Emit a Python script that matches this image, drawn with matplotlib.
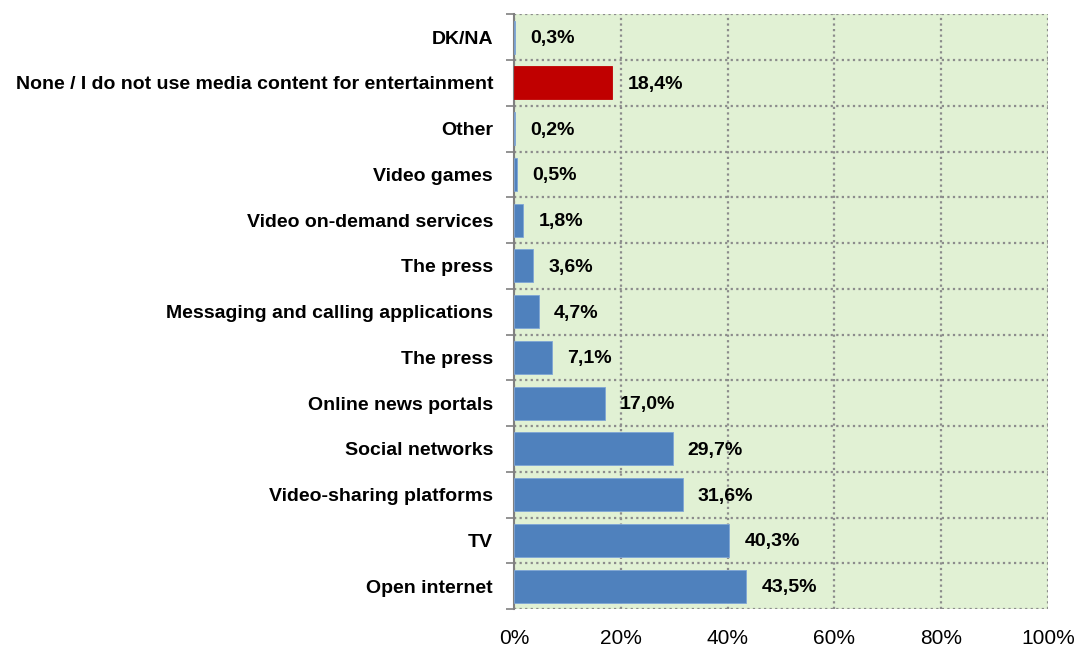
import numpy as np
import matplotlib
matplotlib.use("Agg")
from matplotlib import pyplot as plt
from matplotlib.ticker import FixedLocator

# data, top to bottom as in the chart
categories = [
    "DK/NA",
    "None / I do not use media content for entertainment",
    "Other",
    "Video games",
    "Video on-demand services",
    "The press",
    "Messaging and calling applications",
    "The press",
    "Online news portals",
    "Social networks",
    "Video-sharing platforms",
    "TV",
    "Open internet",
]
values = [0.3, 18.4, 0.2, 0.5, 1.8, 3.6, 4.7, 7.1, 17.0, 29.7, 31.6, 40.3, 43.5]
highlight = "None / I do not use media content for entertainment"
x_ticks = [0, 20, 40, 60, 80, 100]

plt.rcParams['font.family'] = ['Liberation Sans Narrow', 'Liberation Sans', 'DejaVu Sans']

fig = plt.figure(figsize=(10.75, 6.48), dpi=100)
ax = fig.add_axes([0.478, 0.06, 0.497, 0.918])
ax.set_facecolor('#E1F1D4')

n = len(categories)
y = np.arange(n)[::-1]
colors = ['#C00000' if c == highlight else '#4F81BD' for c in categories]
bars = ax.barh(y, values, height=0.72, color=colors, edgecolor='#7FA6D6', linewidth=0.6, zorder=3)
# red bar without blue edge
for b, c in zip(bars, categories):
    if c == highlight:
        b.set_edgecolor('#C00000')

for yi, v in zip(y, values):
    ax.annotate(f"{v:.1f}%".replace('.', ','), (v, yi), xytext=(11, -1),
                textcoords='offset points', va='center', ha='left',
                fontsize=14, fontweight='bold', zorder=4)

ax.set_xlim(0, 100)
ax.set_ylim(-0.5, n - 0.5)
ax.set_xticks(x_ticks)
ax.set_xticklabels([f"{t}%" for t in x_ticks], fontsize=15)
ax.tick_params(axis='x', length=0, pad=14)

ax.set_yticks(y)
ax.set_yticklabels(categories, fontsize=14, fontweight='bold')
ax.tick_params(axis='y', which='major', length=0, pad=15)
bounds = np.arange(n + 1) - 0.5
ax.yaxis.set_minor_locator(FixedLocator(bounds))
ax.tick_params(axis='y', which='minor', length=6, color='#808080', width=1.2)

ax.grid(True, axis='x', which='major', linestyle=(0, (1, 1.5)), color='#8C8C8C', linewidth=1.6, zorder=1)
ax.grid(True, axis='y', which='minor', linestyle=(0, (1, 1.5)), color='#8C8C8C', linewidth=1.6, zorder=1)
ax.grid(False, axis='y', which='major')

for s in ['top', 'right', 'bottom']:
    ax.spines[s].set_visible(False)
ax.spines['left'].set_color('#808080')
ax.spines['left'].set_linewidth(1.5)
ax.set_axisbelow(True)

plt.savefig("out.png", dpi=100)
